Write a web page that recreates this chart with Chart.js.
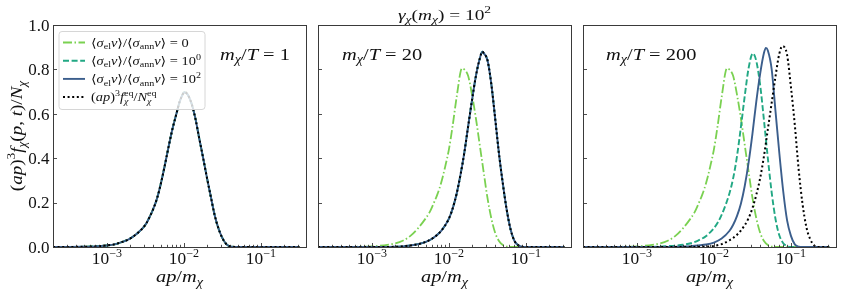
<!DOCTYPE html>
<html>
<head>
<meta charset="utf-8">
<script src="https://cdn.jsdelivr.net/npm/chart.js@4.4.1/dist/chart.umd.min.js"></script>
<style>
  body { margin: 0; background: #fff; }
  #wrap { position: relative; width: 843px; height: 295px; }
  canvas { position: absolute; top: 0; }
</style>
</head>
<body>
<div id="wrap">
  <canvas id="c1" width="312" height="295" style="left:0px"></canvas>
  <canvas id="c2" width="265" height="295" style="left:312px"></canvas>
  <canvas id="c3" width="266" height="295" style="left:577px"></canvas>
</div>
<script>
// Datos (x en log10(ap/m_chi), y = (ap)^3 f / N)

// Panel 1: m/T = 1 (las cuatro curvas coinciden)
const p1LogX = [-3.7, -3.3, -3.1, -3.0, -2.9, -2.8, -2.7, -2.6, -2.5, -2.45, -2.4, -2.35, -2.3, -2.25, -2.2, -2.15, -2.1, -2.05, -1.99, -1.95, -1.9, -1.85, -1.8, -1.75, -1.7, -1.65, -1.6, -1.55, -1.5, -1.45, -1.4, -1.3, -0.5];
const p1Y    = [0, 0.001, 0.004, 0.007, 0.012, 0.023, 0.038, 0.063, 0.10, 0.132, 0.17, 0.218, 0.285, 0.365, 0.45, 0.53, 0.597, 0.66, 0.697, 0.686, 0.645, 0.577, 0.487, 0.40, 0.31, 0.225, 0.142, 0.082, 0.04, 0.013, 0.003, 0, 0];

// Sin acoplamiento cinético (igual en los paneles 2 y 3)
const greenLogX = [-3.7, -3.2, -3.0, -2.9, -2.8, -2.7, -2.6, -2.5, -2.4, -2.3, -2.25, -2.2, -2.15, -2.1, -2.05, -2.0, -1.95, -1.9, -1.83, -1.8, -1.75, -1.7, -1.65, -1.6, -1.55, -1.5, -1.45, -1.4, -1.35, -1.3, -1.25, -1.2, -0.5];
const greenY    = [0, 0.001, 0.003, 0.006, 0.01, 0.016, 0.028, 0.05, 0.085, 0.13, 0.157, 0.195, 0.237, 0.29, 0.36, 0.44, 0.55, 0.675, 0.805, 0.80, 0.77, 0.685, 0.58, 0.46, 0.34, 0.222, 0.13, 0.064, 0.027, 0.009, 0.002, 0, 0];

// Panel 2: m/T = 20 (10^0, 10^2 y equilibrio casi iguales)
const p2LogX = [-3.7, -2.9, -2.7, -2.6, -2.5, -2.4, -2.3, -2.2, -2.1, -2.0, -1.95, -1.9, -1.85, -1.8, -1.75, -1.7, -1.65, -1.6, -1.565, -1.55, -1.5, -1.45, -1.4, -1.35, -1.3, -1.25, -1.2, -1.15, -1.1, -1.05, -1.0, -0.5];
const p2Y    = [0, 0, 0.001, 0.003, 0.007, 0.013, 0.023, 0.042, 0.073, 0.128, 0.175, 0.24, 0.325, 0.425, 0.545, 0.662, 0.77, 0.848, 0.88, 0.874, 0.842, 0.735, 0.58, 0.42, 0.285, 0.168, 0.08, 0.028, 0.008, 0.001, 0, 0];

// Panel 3: m/T = 200
const tealLogX = [-3.7, -2.9, -2.7, -2.6, -2.5, -2.4, -2.3, -2.2, -2.1, -2.0, -1.95, -1.9, -1.85, -1.8, -1.75, -1.7, -1.65, -1.6, -1.55, -1.495, -1.45, -1.4, -1.35, -1.3, -1.25, -1.2, -1.15, -1.1, -1.05, -1.0, -0.5];
const tealY    = [0, 0, 0.002, 0.004, 0.006, 0.01, 0.017, 0.03, 0.05, 0.085, 0.11, 0.145, 0.188, 0.24, 0.31, 0.41, 0.54, 0.68, 0.805, 0.872, 0.838, 0.73, 0.57, 0.40, 0.245, 0.125, 0.052, 0.017, 0.004, 0, 0];

const blueLogX = [-3.7, -2.6, -2.4, -2.3, -2.2, -2.1, -2.0, -1.9, -1.8, -1.75, -1.7, -1.65, -1.6, -1.55, -1.5, -1.45, -1.4, -1.35, -1.325, -1.3, -1.25, -1.2, -1.15, -1.1, -1.05, -1.0, -0.95, -0.9, -0.85, -0.5];
const blueY    = [0, 0, 0.002, 0.004, 0.007, 0.011, 0.02, 0.038, 0.072, 0.10, 0.14, 0.195, 0.275, 0.38, 0.51, 0.655, 0.78, 0.875, 0.897, 0.885, 0.80, 0.61, 0.42, 0.25, 0.12, 0.05, 0.012, 0.002, 0, 0];

const eqLogX = [-3.7, -2.3, -2.1, -2.0, -1.9, -1.8, -1.7, -1.6, -1.55, -1.5, -1.45, -1.4, -1.35, -1.3, -1.25, -1.2, -1.15, -1.11, -1.05, -1.0, -0.95, -0.9, -0.85, -0.8, -0.75, -0.7, -0.65, -0.5];
const eqY    = [0, 0, 0.002, 0.005, 0.013, 0.03, 0.055, 0.098, 0.13, 0.175, 0.235, 0.31, 0.41, 0.53, 0.65, 0.77, 0.872, 0.905, 0.865, 0.72, 0.55, 0.35, 0.195, 0.09, 0.035, 0.008, 0, 0];

const yTicks = [0, 0.2, 0.4, 0.6, 0.8, 1.0];
const yTickLabels = ['0.0', '0.2', '0.4', '0.6', '0.8', '1.0'];
const xDecades = [-3, -2, -1];
const panelTemps = ['1', '20', '200'];

const XMIN = Math.pow(10, -3.7);
const XMAX = Math.pow(10, -0.415);
const SERIF = '"Liberation Serif", "DejaVu Serif", serif';

const estilos = {
    green: { borderColor: '#7ad151', borderDash: [9, 2.5, 1.5, 2.5], borderWidth: 1.8 },
    teal:  { borderColor: '#22a884', borderDash: [6, 2.6], borderWidth: 1.9 },
    blue:  { borderColor: '#3b5e8c', borderDash: [], borderWidth: 1.9 },
    black: { borderColor: '#000000', borderDash: [2, 2.6], borderWidth: 2 }
};

const toPts = (lx, ly) => lx.map((v, i) => ({ x: Math.pow(10, v), y: ly[i] }));

// Texto tipo LaTeX: [texto, tipo, apilar]
function layoutMath(ctx, parts, size) {
    let x = 0, prevStart = 0, prevW = 0;
    const items = [];
    for (const [t, k, back] of parts) {
        const small = k !== 'r' && k !== 'i';
        const ital = k === 'i' || k === 'subi' || k === 'supi';
        const fs = small ? size * 0.7 : size;
        const font = (ital ? 'italic ' : '') + fs.toFixed(1) + 'px ' + SERIF;
        ctx.font = font;
        const w = ctx.measureText(t).width;
        let dy = 0;
        if (k.startsWith('sub')) dy = size * 0.22;
        if (k.startsWith('sup')) dy = -size * 0.4;
        let sx = x;
        if (back) { sx = prevStart; x = prevStart + Math.max(prevW, w); }
        else { x += w; }
        items.push({ t, font, sx, dy });
        prevStart = sx; prevW = w;
    }
    return { items, width: x };
}

// hs: ensanchado horizontal para parecerse a Computer Modern
function drawMath(ctx, parts, x, y, size, align, hs) {
    hs = hs || 1;
    const L = layoutMath(ctx, parts, size);
    const w = L.width * hs;
    const x0 = align === 'center' ? x - w / 2 : align === 'right' ? x - w : x;
    ctx.save();
    ctx.translate(x0, y);
    ctx.scale(hs, 1);
    ctx.textAlign = 'left';
    ctx.textBaseline = 'alphabetic';
    L.items.forEach(it => { ctx.font = it.font; ctx.fillText(it.t, it.sx, it.dy); });
    ctx.restore();
}

const ratio = [['⟨', 'r'], ['σ', 'i'], ['el', 'sub'], ['v', 'i'], ['⟩/⟨', 'r'], ['σ', 'i'], ['ann', 'sub'], ['v', 'i']];
const legendRows = [
    { key: 'green', parts: ratio.concat([['⟩ = 0', 'r']]) },
    { key: 'teal',  parts: ratio.concat([['⟩ = 10', 'r'], ['0', 'sup']]) },
    { key: 'blue',  parts: ratio.concat([['⟩ = 10', 'r'], ['2', 'sup']]) },
    { key: 'black', parts: [['(', 'r'], ['ap', 'i'], [')', 'r'], ['3', 'sup'], ['f', 'i'], ['eq', 'sup'], ['χ', 'subi', true], ['/', 'r'], ['N', 'i'], ['eq', 'sup'], ['χ', 'subi', true]] }
];

const decor = {
    id: 'decor',
    afterDraw(chart, args, opts) {
        const ctx = chart.ctx, a = chart.chartArea;
        const xs = chart.scales.x, ys = chart.scales.y;
        ctx.save();
        ctx.fillStyle = '#111';
        ctx.strokeStyle = '#222';
        ctx.lineWidth = 0.8;
        ctx.setLineDash([]);

        // marcas del eje x (hacia dentro)
        for (let d = -4; d <= 0; d++) {
            for (let m = 1; m <= 9; m++) {
                const v = m * Math.pow(10, d);
                if (v < XMIN || v > XMAX) continue;
                const px = Math.round(xs.getPixelForValue(v)) + 0.5;
                const len = m === 1 ? 4 : 2.2;
                ctx.beginPath();
                ctx.moveTo(px, a.bottom);
                ctx.lineTo(px, a.bottom - len);
                ctx.stroke();
            }
        }
        // marcas del eje y
        yTicks.forEach(v => {
            const py = Math.round(ys.getPixelForValue(v)) + 0.5;
            ctx.beginPath();
            ctx.moveTo(a.left, py);
            ctx.lineTo(a.left + 4, py);
            ctx.stroke();
        });
        // marco
        ctx.strokeStyle = '#3a3a3a';
        ctx.lineWidth = 1;
        ctx.strokeRect(Math.round(a.left) + 0.5, Math.round(a.top) + 0.5, Math.round(a.right - a.left), Math.round(a.bottom - a.top));

        // etiquetas x
        xDecades.forEach(d => {
            const px = xs.getPixelForValue(Math.pow(10, d));
            drawMath(ctx, [['10', 'r'], ['−' + Math.abs(d), 'sup']], px, a.bottom + 16.5, 16.5, 'center', 1.05);
        });
        drawMath(ctx, [['ap', 'i'], ['/', 'r'], ['m', 'i'], ['χ', 'subi']], (a.left + a.right) / 2, a.bottom + 35, 17, 'center', 1.2);

        // anotación m/T
        drawMath(ctx, [['m', 'i'], ['χ', 'subi'], ['/', 'r'], ['T', 'i'], [' = ' + opts.temp, 'r']], a.left + opts.annotX, a.top + 34.5, 17, 'left', 1.2);

        if (opts.yLabels) {
            ctx.font = '17px ' + SERIF;
            ctx.textAlign = 'right';
            ctx.textBaseline = 'alphabetic';
            yTicks.forEach((v, i) => {
                ctx.fillText(yTickLabels[i], a.left - 3.5, ys.getPixelForValue(v) + 5.8);
            });
            ctx.save();
            ctx.translate(22, (a.top + a.bottom) / 2);
            ctx.rotate(-Math.PI / 2);
            drawMath(ctx, [['(', 'r'], ['ap', 'i'], [')', 'r'], ['3', 'sup'], ['f', 'i'], ['χ', 'subi'], ['(', 'r'], ['p', 'i'], [', ', 'r'], ['t', 'i'], [')/', 'r'], ['N', 'i'], ['χ', 'subi']], 0, 0, 17, 'center', 1.12);
            ctx.restore();
        }

        if (opts.title) {
            drawMath(ctx, [['γ', 'i'], ['χ', 'subi'], ['(', 'r'], ['m', 'i'], ['χ', 'subi'], [') = 10', 'r'], ['2', 'sup']], (a.left + a.right) / 2, 19.5, 15.5, 'center', 1.25);
        }

        if (opts.legend) {
            const bx = a.left + 6, by = a.top + 6.5, bw = 146, bh = 78, r = 3;
            ctx.beginPath();
            ctx.moveTo(bx + r, by);
            ctx.arcTo(bx + bw, by, bx + bw, by + bh, r);
            ctx.arcTo(bx + bw, by + bh, bx, by + bh, r);
            ctx.arcTo(bx, by + bh, bx, by, r);
            ctx.arcTo(bx, by, bx + bw, by, r);
            ctx.closePath();
            ctx.fillStyle = 'rgba(255,255,255,0.8)';
            ctx.fill();
            ctx.strokeStyle = '#d6d6d6';
            ctx.lineWidth = 1;
            ctx.stroke();
            legendRows.forEach((row, i) => {
                const yy = by + 11 + i * 18.2;
                const st = estilos[row.key];
                ctx.strokeStyle = st.borderColor;
                ctx.lineWidth = st.borderWidth;
                ctx.setLineDash(st.borderDash);
                ctx.beginPath();
                ctx.moveTo(bx + 4, yy);
                ctx.lineTo(bx + 26, yy);
                ctx.stroke();
                ctx.setLineDash([]);
                ctx.fillStyle = '#111';
                drawMath(ctx, row.parts, bx + 32, yy + 4, 12, 'left', 1.2);
            });
        }
        ctx.restore();
    }
};

function makeDataset(key, pts) {
    const st = estilos[key];
    return {
        data: pts,
        borderColor: st.borderColor,
        borderDash: st.borderDash,
        borderWidth: st.borderWidth,
        borderCapStyle: 'butt',
        pointRadius: 0,
        fill: false,
        cubicInterpolationMode: 'monotone'
    };
}

function makeChart(id, datasets, padding, decorOpts) {
    return new Chart(document.getElementById(id), {
        type: 'line',
        data: { datasets: datasets },
        options: {
            responsive: false,
            animation: false,
            layout: { padding: padding },
            scales: {
                x: { type: 'logarithmic', min: XMIN, max: XMAX, display: false },
                y: { type: 'linear', min: 0, max: 1, display: false }
            },
            plugins: {
                legend: { display: false },
                tooltip: { enabled: false },
                decor: decorOpts
            }
        },
        plugins: [decor]
    });
}

// Panel 1
makeChart('c1', [
    makeDataset('black', toPts(p1LogX, p1Y)),
    makeDataset('blue', toPts(p1LogX, p1Y)),
    makeDataset('teal', toPts(p1LogX, p1Y)),
    makeDataset('green', toPts(p1LogX, p1Y))
], { left: 53, right: 6, top: 25, bottom: 48 }, { temp: panelTemps[0], annotX: 167, yLabels: true, legend: true });

// Panel 2
makeChart('c2', [
    makeDataset('black', toPts(p2LogX, p2Y)),
    makeDataset('blue', toPts(p2LogX, p2Y)),
    makeDataset('teal', toPts(p2LogX, p2Y)),
    makeDataset('green', toPts(greenLogX, greenY))
], { left: 6, right: 6, top: 25, bottom: 48 }, { temp: panelTemps[1], annotX: 24, title: true });

// Panel 3
makeChart('c3', [
    makeDataset('black', toPts(eqLogX, eqY)),
    makeDataset('blue', toPts(blueLogX, blueY)),
    makeDataset('teal', toPts(tealLogX, tealY)),
    makeDataset('green', toPts(greenLogX, greenY))
], { left: 6, right: 7, top: 25, bottom: 48 }, { temp: panelTemps[2], annotX: 23 });
</script>
</body>
</html>
